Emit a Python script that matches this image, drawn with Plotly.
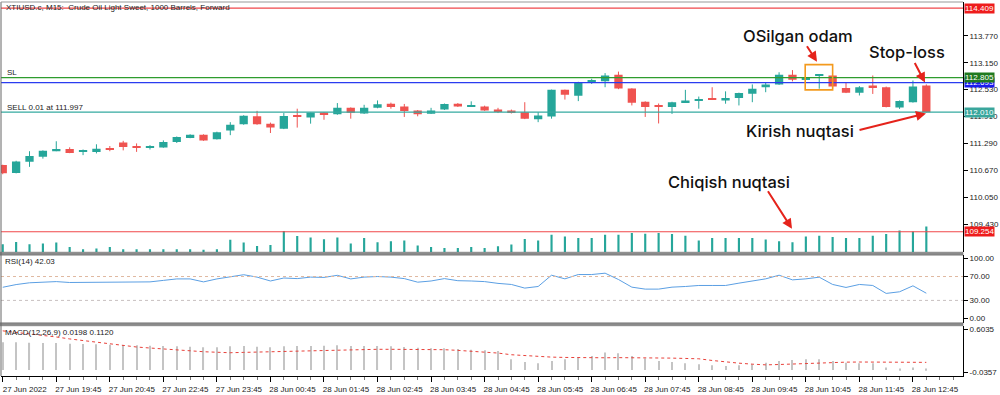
import plotly.graph_objects as go

# ---------------- data ----------------
tick_text = ["27 Jun 2022", "27 Jun 19:45", "27 Jun 20:45", "27 Jun 22:45", "27 Jun 23:45",
             "28 Jun 00:45", "28 Jun 01:45", "28 Jun 02:45", "28 Jun 03:45", "28 Jun 04:45",
             "28 Jun 05:45", "28 Jun 06:45", "28 Jun 07:45", "28 Jun 08:45", "28 Jun 09:45",
             "28 Jun 10:45", "28 Jun 11:45", "28 Jun 12:45"]

opens = [110.79, 110.61, 110.865, 110.98, 111.11, 111.16, 111.095, 111.095, 111.185, 111.31,
         111.23, 111.19, 111.195, 111.32, 111.415, 111.49, 111.385, 111.59, 111.73, 111.915,
         111.745, 111.63, 111.94, 111.885, 112.00, 111.96, 112.11, 111.98, 112.11, 112.205,
         112.14, 112.05, 111.975, 112.07, 112.205, 112.15, 112.14, 112.07, 112.05, 112.01,
         111.845, 111.91, 112.525, 112.39, 112.71, 112.72, 112.875, 112.555, 112.25, 112.155,
         112.13, 112.24, 112.275, 112.32, 112.28, 112.335, 112.435, 112.585, 112.645, 112.875,
         112.77, 112.855, 112.855, 112.57, 112.455, 112.625, 112.585, 112.115, 112.24, 112.625]
highs = [110.80, 110.89, 111.11, 111.13, 111.34, 111.20, 111.15, 111.27, 111.23, 111.35,
         111.29, 111.25, 111.36, 111.45, 111.50, 111.50, 111.56, 111.78, 111.94, 112.04,
         111.77, 111.99, 112.09, 112.00, 112.01, 112.22, 112.12, 112.18, 112.28, 112.23,
         112.20, 112.06, 112.11, 112.21, 112.22, 112.26, 112.16, 112.11, 112.07, 112.24,
         112.01, 112.53, 112.53, 112.71, 112.78, 112.91, 112.945, 112.56, 112.26, 112.21,
         112.25, 112.525, 112.37, 112.585, 112.49, 112.46, 112.65, 112.70, 112.93, 112.98,
         112.79, 112.88, 112.86, 112.70, 112.61, 112.855, 112.60, 112.28, 112.74, 112.65]
lows = [110.58, 110.60, 110.75, 110.94, 111.11, 111.065, 111.02, 111.06, 111.11, 111.13,
        111.095, 111.15, 111.19, 111.30, 111.41, 111.35, 111.38, 111.48, 111.72, 111.72,
        111.53, 111.62, 111.655, 111.745, 111.835, 111.95, 111.86, 111.97, 112.10, 112.09,
        111.90, 111.915, 111.97, 112.06, 112.13, 112.15, 112.04, 111.99, 111.98, 111.85,
        111.78, 111.86, 112.30, 112.265, 112.66, 112.585, 112.54, 112.165, 111.90, 111.75,
        111.97, 112.23, 112.09, 112.29, 112.205, 112.165, 112.24, 112.47, 112.64, 112.72,
        112.76, 112.55, 112.55, 112.45, 112.395, 112.43, 112.12, 112.085, 112.23, 112.00]
closes = [110.60, 110.875, 111.00, 111.12, 111.16, 111.07, 111.13, 111.17, 111.15, 111.21,
          111.195, 111.20, 111.32, 111.44, 111.49, 111.36, 111.55, 111.72, 111.93, 111.73,
          111.655, 111.92, 111.90, 112.00, 111.96, 112.11, 111.995, 112.11, 112.19, 112.13,
          112.035, 111.96, 112.05, 112.20, 112.14, 112.155, 112.05, 112.03, 111.99, 111.86,
          111.935, 112.525, 112.41, 112.70, 112.72, 112.855, 112.555, 112.23, 112.13, 112.13,
          112.24, 112.28, 112.30, 112.30, 112.335, 112.45, 112.55, 112.645, 112.875, 112.755,
          112.785, 112.88, 112.60, 112.46, 112.585, 112.585, 112.13, 112.265, 112.60, 112.01]
volumes = [80, 103, 80, 87, 97, 53, 30, 37, 53, 30,
           30, 30, 30, 30, 30, 25, 30, 125, 97, 63,
           73, 213, 163, 147, 130, 148, 87, 142, 100, 110,
           117, 67, 53, 43, 43, 53, 43, 60, 77, 132,
           117, 175, 158, 142, 142, 175, 175, 192, 185, 192,
           182, 165, 117, 142, 142, 142, 142, 127, 110, 100,
           158, 165, 152, 142, 142, 165, 182, 218, 208, 258]
rsi = [52.0, 56.5, 59.5, 61.0, 61.5, 60.0, 60.0, 60.5, 60.0, 60.5,
       61.0, 61.0, 63.5, 66.0, 66.0, 61.0, 66.0, 69.5, 73.0, 69.0,
       62.5, 67.5, 66.5, 69.0, 68.5, 72.0, 66.0, 69.0, 70.0, 69.0,
       66.5, 60.5, 62.5, 66.5, 63.0, 62.5, 61.5, 58.5, 56.7, 50.6,
       53.3, 72.2, 66.1, 73.3, 73.3, 75.6, 65.0, 52.2, 48.9, 48.9,
       52.2, 53.3, 55.0, 55.0, 55.0, 58.9, 62.8, 66.1, 72.2, 64.4,
       66.1, 68.9, 56.7, 51.7, 56.7, 55.0, 41.7, 44.4, 54.4, 42.03]
macd_main = [0.41, 0.41, 0.405, 0.40, 0.40, 0.39, 0.385, 0.38, 0.375, 0.37,
             0.365, 0.36, 0.355, 0.35, 0.345, 0.335, 0.335, 0.35, 0.355, 0.345,
             0.335, 0.35, 0.355, 0.355, 0.36, 0.365, 0.355, 0.355, 0.355, 0.35,
             0.34, 0.33, 0.32, 0.32, 0.31, 0.30, 0.29, 0.28, 0.158, 0.117,
             0.098, 0.132, 0.158, 0.183, 0.207, 0.257, 0.247, 0.207, 0.168, 0.132,
             0.117, 0.098, 0.083, 0.068, 0.058, 0.068, 0.083, 0.108, 0.132, 0.147,
             0.158, 0.158, 0.132, 0.108, 0.098, 0.098, 0.034, 0.019, 0.034, 0.0198]
macd_signal = [0.58, 0.56, 0.54, 0.515, 0.489, 0.46, 0.435, 0.41, 0.385, 0.36,
               0.34, 0.325, 0.31, 0.295, 0.28, 0.27, 0.262, 0.255, 0.26, 0.265,
               0.268, 0.27, 0.275, 0.28, 0.29, 0.30, 0.305, 0.306, 0.306, 0.306,
               0.306, 0.306, 0.305, 0.30, 0.29, 0.28, 0.265, 0.25, 0.225, 0.21,
               0.195, 0.19, 0.185, 0.18, 0.178, 0.18, 0.182, 0.183, 0.18, 0.178,
               0.175, 0.17, 0.165, 0.14, 0.115, 0.10, 0.085, 0.075, 0.08, 0.088,
               0.095, 0.10, 0.11, 0.115, 0.117, 0.117, 0.117, 0.115, 0.114, 0.112]

price_ticks = [113.770, 113.150, 112.530, 111.910, 111.290, 110.670, 110.050, 109.430]
rsi_ticks = [0, 30, 70, 100]
macd_ticks = [0.6035, -0.0357]

level_top = 114.409
level_sl = 112.805
level_bid = 112.693
level_entry = 112.010
level_bottom = 109.254
rsi_levels = [30, 70]

# ---------------- styling ----------------
GREEN = "#26a69a"
RED = "#ef5350"
SMALL = dict(family="Liberation Sans, Arial, sans-serif", size=8, color="#222222")
BIG = dict(family="Inter, Open Sans, sans-serif", size=16.5, color="#111111", weight=500)

W, H = 1000, 395
ML, MR, MT, MB = 1, 37, 1, 18
PW = W - ML - MR
PH = H - MT - MB


def px(x, y):
    return (x - ML) / PW, (H - MB - y) / PH


def fy(y):
    return (H - MB - y) / PH


idx = list(range(len(opens)))
up = [i for i in idx if closes[i] >= opens[i]]
dn = [i for i in idx if closes[i] < opens[i]]

fig = go.Figure()


def wick_xy(ids):
    xs, ys = [], []
    for i in ids:
        xs += [i, i, None]
        ys += [lows[i], highs[i], None]
    return xs, ys


for ids, col in ((up, GREEN), (dn, RED)):
    wx, wy = wick_xy(ids)
    fig.add_trace(go.Scatter(x=wx, y=wy, mode="lines", line=dict(color=col, width=1),
                             hoverinfo="skip", showlegend=False, xaxis="x", yaxis="y"))
for ids, col in ((up, GREEN), (dn, RED)):
    fig.add_trace(go.Bar(x=ids, base=[min(opens[i], closes[i]) for i in ids],
                         y=[max(abs(closes[i] - opens[i]), 0.025) for i in ids],
                         width=0.62, marker=dict(color=col, line=dict(width=0)),
                         showlegend=False, xaxis="x", yaxis="y"))

# volume bars
fig.add_trace(go.Bar(x=idx, y=volumes, width=0.16, marker=dict(color=GREEN, line=dict(width=0)),
                     showlegend=False, xaxis="x", yaxis="y4"))

# RSI
fig.add_trace(go.Scatter(x=idx, y=rsi, mode="lines", line=dict(color="#5b9fe3", width=1),
                         showlegend=False, xaxis="x", yaxis="y2"))

# MACD
fig.add_trace(go.Bar(x=idx, y=macd_main, width=0.08, marker=dict(color="#c4c4c4", line=dict(width=0)),
                     showlegend=False, xaxis="x", yaxis="y3"))
fig.add_trace(go.Scatter(x=idx, y=macd_signal, mode="lines",
                         line=dict(color="#e8413a", width=1, dash="dot"),
                         showlegend=False, xaxis="x", yaxis="y3"))

# ---------------- layout ----------------
main_dom = [fy(252.5), 1.0]
rsi_dom = [fy(323.5), fy(255.5)]
macd_dom = [0.0, fy(326.5)]

axis_common = dict(side="right", anchor="x", showgrid=False, zeroline=False, showline=True,
                   linecolor="#000000", linewidth=1, ticks="outside", ticklen=4, tickcolor="#000000",
                   tickfont=SMALL, fixedrange=True)

fig.update_layout(
    width=W, height=H, margin=dict(l=ML, r=MR, t=MT, b=MB),
    paper_bgcolor="white", plot_bgcolor="white", barmode="overlay", showlegend=False,
    xaxis=dict(range=[-0.13, 71.74], anchor="y3", showgrid=False, zeroline=False, showline=True,
               linecolor="#000000", linewidth=1, tickmode="array", tickvals=list(range(0, 70, 4)),
               ticktext=tick_text, ticks="outside", ticklen=5, tickcolor="#000000",
               tickfont=SMALL, ticklabelshift=22,
               minor=dict(tickmode="linear", tick0=0, dtick=1, ticks="outside", ticklen=3,
                          tickcolor="#777777")),
    yaxis=dict(domain=main_dom, range=[108.784, 114.549], tickmode="array", tickvals=price_ticks,
               ticktext=["%.3f" % v for v in price_ticks], **axis_common),
    yaxis2=dict(domain=rsi_dom, range=[-7.5, 105.8], tickmode="array", tickvals=rsi_ticks,
                ticktext=["%.2f" % v for v in rsi_ticks], **axis_common),
    yaxis3=dict(domain=macd_dom, range=[-0.0907, 0.6555], tickmode="array", tickvals=macd_ticks,
                ticktext=["%.4f" % v for v in macd_ticks], **axis_common),
    yaxis4=dict(domain=main_dom, overlaying="y", range=[0, 2515], visible=False, fixedrange=True),
)

shapes = []
# horizontal price levels
for lv, col in ((level_top, "#f0474a"), (level_sl, "#2e9c2e"), (level_bid, "#2a3cf0"),
                (level_entry, "#35aaa0"), (level_bottom, "#f0474a")):
    shapes.append(dict(type="line", xref="paper", yref="y", x0=0, x1=1, y0=lv, y1=lv,
                       line=dict(color=col, width=1.2)))
# RSI levels
for lv, col in zip(rsi_levels, ("#c8c0c0", "#e0b8a0")):
    shapes.append(dict(type="line", xref="paper", yref="y2", x0=0, x1=1, y0=lv, y1=lv,
                       line=dict(color=col, width=1, dash="dot")))
# panel separators
for top, bot in ((252.5, 255.5), (323.5, 326.5)):
    shapes.append(dict(type="rect", xref="paper", yref="paper", x0=-0.002, x1=1, y0=fy(bot), y1=fy(top),
                       fillcolor="#8a8a8a", line=dict(color="#666666", width=0.5), layer="above"))
# frame left/top
shapes.append(dict(type="line", xref="paper", yref="paper", x0=0, x1=0, y0=0, y1=1,
                   line=dict(color="#666666", width=1)))
shapes.append(dict(type="line", xref="paper", yref="paper", x0=0, x1=1, y0=1, y1=1,
                   line=dict(color="#999999", width=1)))
# orange box around the pattern
shapes.append(dict(type="rect", xref="x", yref="y", x0=59.95, x1=62.0, y0=112.525, y1=113.105,
                   line=dict(color="#f39a1e", width=1.6), fillcolor="rgba(0,0,0,0)"))
fig.update_layout(shapes=shapes)

ann = []
# small texts
for (x, y, t) in ((4, 7, "XTIUSD.c, M15:  Crude Oil Light Sweet, 1000 Barrels, Forward"),
                  (5, 72, "SL"), (5, 107, "SELL 0.01 at 111.997"),
                  (3, 262, "RSI(14) 42.03"), (3, 333, "MACD(12,26,9) 0.0198 0.1120")):
    X, Y = px(x, y)
    ann.append(dict(x=X, y=Y, xref="paper", yref="paper", text=t, showarrow=False,
                    xanchor="left", yanchor="middle", font=SMALL))
# price boxes
for lv, bg in ((level_top, "#ee1c1c"), (level_bid, "#1a1aee"), (level_sl, "#1f7a1f"),
               (level_entry, "#3aa69c"), (level_bottom, "#ee1c1c")):
    ann.append(dict(x=1, y=lv, xref="paper", yref="y", xanchor="left", yanchor="middle", xshift=1,
                    text="%.3f" % lv, showarrow=False, bgcolor=bg, borderpad=0,
                    font=dict(family=SMALL["family"], size=8, color="white")))
# big annotation texts
for (x, y, t) in ((798, 35, "OSilgan odam"), (907, 51, "Stop-loss"),
                  (800, 131, "Kirish nuqtasi"), (729, 182, "Chiqish nuqtasi")):
    X, Y = px(x, y)
    ann.append(dict(x=X, y=Y, xref="paper", yref="paper", text=t, showarrow=False,
                    xanchor="center", yanchor="middle", font=BIG))
# red arrows (head, tail in pixels)
for (hx, hy, tx, ty) in ((817, 61, 806, 44), (925, 82, 914, 61),
                         (926, 113, 858, 130), (792, 229, 767, 190)):
    X, Y = px(hx, hy)
    ann.append(dict(x=X, y=Y, xref="paper", yref="paper", text="", showarrow=True,
                    ax=tx - hx, ay=ty - hy, arrowhead=2, arrowsize=1, arrowwidth=2,
                    arrowcolor="#e5231b", standoff=0))
fig.update_layout(annotations=ann)

fig.write_html("out.html")
